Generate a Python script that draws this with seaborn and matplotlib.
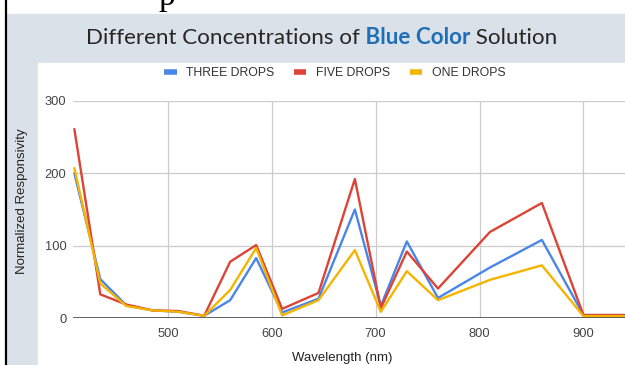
import pandas as pd
import numpy as np
import matplotlib
matplotlib.use('Agg')
import matplotlib.pyplot as plt
from matplotlib.patches import Rectangle
from matplotlib.lines import Line2D
import seaborn as sns

# channel wavelengths (nm) and readings per concentration
wavelengths = [410, 435, 460, 485, 510, 535, 560, 585, 610, 645, 680, 705, 730, 760, 810, 860, 900, 940]
three_drops = [200, 54, 18, 11, 9, 3.5, 25, 83, 8, 27, 150, 17, 106, 28, 70, 108, 4.5, 4.5]
five_drops = [261, 33, 19, 11, 10, 3.5, 78, 101, 13, 35, 192, 14, 92, 41, 119, 159, 4.5, 4.5]
one_drops = [207, 48, 17, 11, 9, 3.5, 39, 97, 4, 25, 94, 9, 65, 25, 53, 73, 3, 3]

series_names = ['THREE DROPS', 'FIVE DROPS', 'ONE DROPS']
series_colors = ['#4a86e8', '#db4437', '#f4b400']
x_ticks = [500, 600, 700, 800, 900]
y_ticks = [0, 100, 200, 300]

df = pd.DataFrame({'Wavelength': wavelengths * 3,
                   'Value': three_drops + five_drops + one_drops,
                   'Series': np.repeat(series_names, len(wavelengths))})

sns.set_style('white')
plt.rcParams['font.family'] = ['Liberation Sans', 'DejaVu Sans']

W, H = 625, 365
fig = plt.figure(figsize=(W / 100, H / 100), dpi=100)

# slide background: grey band on top and left, white chart panel
fig.patches.append(Rectangle((6 / W, 0), 1, 1 - 14 / H, transform=fig.transFigure,
                             color='#dbe1e8', zorder=-3))
fig.patches.append(Rectangle((38 / W, 0), 1, 1 - 63 / H, transform=fig.transFigure,
                             color='white', zorder=-2))
fig.add_artist(Line2D([5.5 / W, 5.5 / W], [0, 1], transform=fig.transFigure,
                      color='black', lw=1.6))
fig.text(158 / W, 1 - 5 / H, 'p', family='Liberation Serif', fontsize=24,
         va='baseline', color='black')

ax = fig.add_axes([73.3 / W, 1 - 318.3 / H, 1 - 73.3 / W, (318.3 - 100.7) / H])
ax.set_facecolor('none')
sns.lineplot(data=df, x='Wavelength', y='Value', hue='Series', hue_order=series_names,
             palette=series_colors, linewidth=1.7, ax=ax, legend=False)

ax.set_xlim(409, 940)
ax.set_ylim(0, 300)
ax.set_xticks(x_ticks)
ax.set_yticks(y_ticks)
ax.grid(True, color='#cccccc', linewidth=0.9)
ax.axhline(0, color='#333333', linewidth=1.8)
for s in ax.spines.values():
    s.set_visible(False)
ax.tick_params(axis='both', length=0, labelsize=9.3, colors='#444444')
ax.tick_params(axis='x', pad=7)
ax.tick_params(axis='y', pad=5)
ax.set_xlabel('Wavelength (nm)', fontsize=9.5, color='#222222', va='center')
ax.set_ylabel('Normalized Responsivity', fontsize=9.5, color='#222222', va='center')
ax.xaxis.set_label_coords((342 - 73.3) / 551.7, (318.3 - 358) / 217.6)
ax.yaxis.set_label_coords((22 - 73.3) / 551.7, (318.3 - 201) / 217.6)

handles = [Line2D([], [], color=c, lw=4, solid_capstyle='butt') for c in series_colors]
fig.legend(handles, series_names, loc='center', bbox_to_anchor=(335 / W, 1 - 73 / H),
           ncol=3, frameon=False, fontsize=8.8, handlelength=1.0, handletextpad=0.8,
           columnspacing=1.6, labelcolor='#333333')

# title with a bold blue part
t1 = fig.text(86 / W, 1 - 48 / H, 'Different Concentrations of', family='Lato',
              fontsize=16.1, color='#262626', va='bottom')
t2 = ax.annotate(' Blue Color', xy=(1, 0), xycoords=t1, va='bottom', family='Lato',
                 fontsize=16.1, fontweight='bold', color='#1f6fb8', annotation_clip=False)
ax.annotate(' Solution', xy=(1, 0), xycoords=t2, va='bottom', family='Lato',
            fontsize=16.1, color='#262626', annotation_clip=False)

fig.savefig('out.png', dpi=100)
